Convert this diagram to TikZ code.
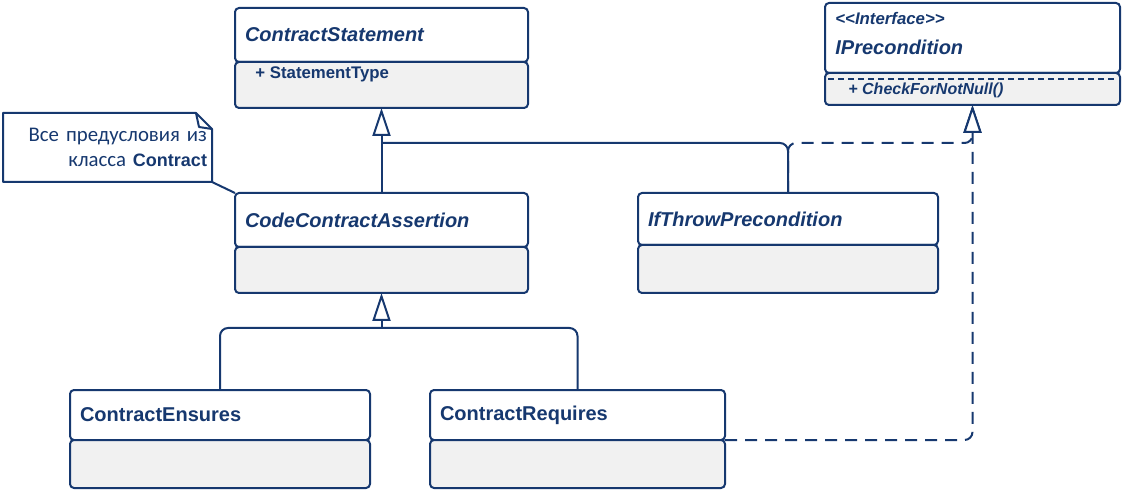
\documentclass[tikz,border=0pt]{standalone}
\usepackage{fontspec}
\setmainfont{Liberation Sans}
\newfontfamily\notefont{Carlito}
\usetikzlibrary{arrows.meta,positioning,calc}
\definecolor{umlNavy}{HTML}{16386F}
\definecolor{umlGray}{HTML}{F1F1F1}

\begin{document}
\begin{tikzpicture}[
    x=0.5pt, y=-0.5pt,
    font=\bfseries, text=umlNavy,
    head/.style={draw=umlNavy, line width=1pt, fill=white, rounded corners=2pt, anchor=north west, outer sep=0pt, inner xsep=5pt, text width=#1, align=left, font=\bfseries\itshape\fontsize{10}{12}\selectfont},
    upright/.style={font=\bfseries\fontsize{10}{12}\selectfont},
    body/.style={draw=umlNavy, line width=1pt, fill=umlGray, rounded corners=2pt, outer sep=0pt, inner xsep=5pt, text width=#1},
    member/.style={anchor=west, inner sep=0pt, font=\bfseries\fontsize{8.4}{10}\selectfont},
    note/.style={anchor=north west, outer sep=0pt, inner xsep=2.5pt, text width=99.5pt, minimum height=34.5pt, align=right, font=\notefont\fontsize{10.4}{12.5}\selectfont},
    notebox/.style={draw=umlNavy, line width=1pt, line join=round},
    tree/.style={draw=umlNavy, line width=1pt, rounded corners=4pt},
    inherit/.style={tree, -{Triangle[fill=white, length=14pt, width=9pt]}},
    realize/.style={tree, dash pattern=on 6pt off 4pt, -{Triangle[fill=white, length=14pt, width=9pt]}}
]
    \useasboundingbox (0,0) rectangle (1128,491);

    % classes
    \node[head=136.5pt, minimum height=27pt] (stmt) at (235,8) {ContractStatement};
    \node[body=136.5pt, minimum height=23pt, below=0pt of stmt] (stmt-body) {};
    \node[member] (stmt-attr) at ($(stmt-body.north west)+(20,12)$) {+ StatementType};

    \node[head=137.5pt, minimum height=35pt] (iface) at (825,3) {};
    \node[body=137.5pt, minimum height=16pt, below=0pt of iface] (iface-body) {};
    \node[member, font=\bfseries\itshape\fontsize{8.4}{10}\selectfont] (iface-stereo) at ($(iface.north west)+(10,16)$) {<\kern0pt<Interface>\kern0pt>};
    \node[member, font=\bfseries\itshape\fontsize{10}{12}\selectfont] (iface-name) at ($(iface.north west)+(10,44)$) {IPrecondition};
    \draw[umlNavy, line width=1pt, dash pattern=on 3pt off 2pt] ($(iface-body.north west)+(3,6)$) -- ($(iface-body.north east)+(-3,6)$);
    \node[member, font=\bfseries\itshape\fontsize{8}{10}\selectfont] (iface-op) at ($(iface-body.north west)+(23,17)$) {+ CheckForNotNull()};

    \node[head=136.5pt, minimum height=27pt] (assert) at (235,193) {CodeContractAssertion};
    \node[body=136.5pt, minimum height=23pt, below=0pt of assert] (assert-body) {};

    \node[head=140pt, minimum height=26pt] (ifthrow) at (638,193) {IfThrowPrecondition};
    \node[body=140pt, minimum height=24pt, below=0pt of ifthrow] (ifthrow-body) {};

    \node[head=140pt, upright, minimum height=25pt] (ensures) at (70,390) {ContractEnsures};
    \node[body=140pt, minimum height=24pt, below=0pt of ensures] (ensures-body) {};

    \node[head=137.5pt, upright, minimum height=25pt] (requires) at (430,390) {ContractRequires};
    \node[body=137.5pt, minimum height=24pt, below=0pt of requires] (requires-body) {};

    % note
    \node[note] (remark) at (3,113) {Все предусловия из\\класса {\rmfamily\bfseries\fontsize{9}{12.5}\selectfont Contract}};
    \draw[notebox] (remark.north west) -- ($(remark.north east)+(-16,0)$) -- ($(remark.north east)+(0,16)$) -- (remark.south east) -- (remark.south west) -- cycle;
    \draw[notebox] ($(remark.north east)+(-16,0)$) -- ($(remark.north east)+(-13,14)$) -- ($(remark.north east)+(0,16)$);
    \draw[notebox] (remark.south east) -- (assert.north west);

    % connectors
    \coordinate (upper) at (381.5,143);
    \coordinate (lower) at (381.5,328);
    \draw[inherit] (assert.north) -- (stmt-body.south);
    \draw[tree] (ifthrow.north) |- (upper);
    \draw[realize] (ifthrow.north) |- (iface-body.south |- upper) -- (iface-body.south);
    \draw[realize] (requires.south east) -| (iface-body.south);
    \draw[inherit] (lower) -- (assert-body.south);
    \draw[tree] (ensures.north) |- (lower) -| (requires.north);
\end{tikzpicture}
\end{document}
